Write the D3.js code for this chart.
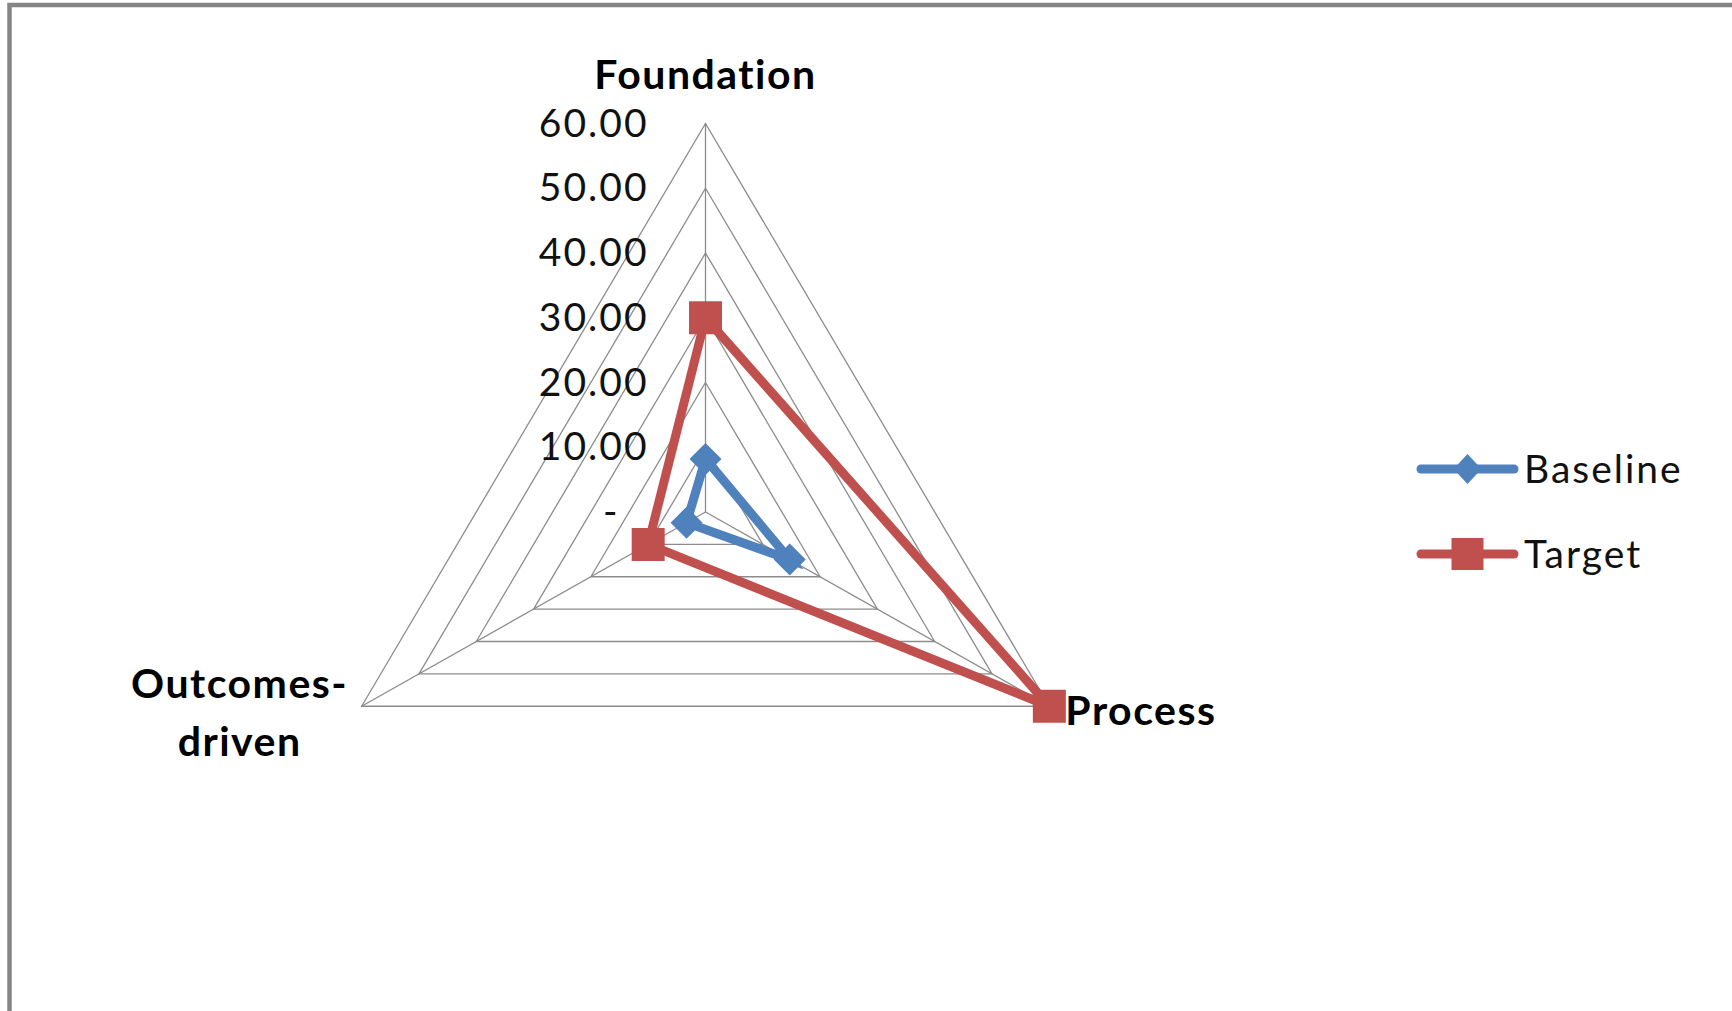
<!DOCTYPE html>
<html>
<head>
<meta charset="utf-8">
<script src="https://cdn.jsdelivr.net/npm/d3@7"></script>
<style>
  html, body { margin: 0; padding: 0; background: #fff; }
  svg { display: block; }
</style>
</head>
<body>
<div id="chart"></div>
<script>
var categories = ["Foundation", "Process", "Outcomes-driven"];
var baseline = [8.2, 14.7, 3.3];
var target = [30, 60, 10];
var tickValues = [0, 10, 20, 30, 40, 50, 60];
var seriesNames = ["Baseline", "Target"];

var width = 1732;
var height = 1011;
var cx = 705.5;
var cy = 512;
var radius = 388.5;
var stretchX = 1.022;
var font = "Lato, 'Open Sans', sans-serif";

var blue = "#4F81BD";
var red = "#C0504D";

var svg = d3.select("#chart").append("svg")
    .attr("width", width)
    .attr("height", height);

svg.append("rect")
    .attr("width", width)
    .attr("height", height)
    .attr("fill", "#fff");

// frame, only top and left edges show in the picture
svg.append("path")
    .attr("d", "M9.5,1011 L9.5,5 L1732,5")
    .attr("fill", "none")
    .attr("stroke", "#858585")
    .attr("stroke-width", 4.5);

var r = d3.scaleLinear().domain([0, 60]).range([0, radius]);

function angle(i) {
    return -Math.PI / 2 + i * 2 * Math.PI / categories.length;
}

function point(v, i) {
    var a = angle(i);
    return [cx + stretchX * r(v) * Math.cos(a), cy + r(v) * Math.sin(a)];
}

var line = d3.line().curve(d3.curveLinearClosed);

// grid triangles
svg.append("g")
    .selectAll("path")
    .data(tickValues.filter(function (t) { return t > 0; }))
    .enter()
    .append("path")
    .attr("d", function (t) {
        return line(categories.map(function (c, i) { return point(t, i); }));
    })
    .attr("fill", "none")
    .attr("stroke", "#8c8c8c")
    .attr("stroke-width", 1.3);

// spokes
svg.append("g")
    .selectAll("line")
    .data(categories)
    .enter()
    .append("line")
    .attr("x1", cx)
    .attr("y1", cy)
    .attr("x2", function (d, i) { return point(60, i)[0]; })
    .attr("y2", function (d, i) { return point(60, i)[1]; })
    .attr("stroke", "#8c8c8c")
    .attr("stroke-width", 1.3);

// tick labels
var fmt = d3.format(".2f");
svg.append("g")
    .selectAll("text")
    .data(tickValues)
    .enter()
    .append("text")
    .attr("x", function (t) { return t === 0 ? cx - 86 : cx - 57; })
    .attr("y", function (t) { return cy - r(t) + 13; })
    .attr("text-anchor", "end")
    .attr("font-family", font)
    .attr("font-size", "39px")
    .attr("letter-spacing", "2px")
    .attr("fill", "#111")
    .text(function (t) { return t === 0 ? "-" : fmt(t); });

// category labels
var catLabels = svg.append("g")
    .attr("font-family", font)
    .attr("font-weight", "bold")
    .attr("font-size", "41px")
    .attr("letter-spacing", "1.5px")
    .attr("fill", "#000");

var topEnd = point(60, 0);
catLabels.append("text")
    .attr("x", topEnd[0])
    .attr("y", topEnd[1] - 35)
    .attr("text-anchor", "middle")
    .text(categories[0]);

var rightEnd = point(60, 1);
catLabels.append("text")
    .attr("x", rightEnd[0] + 16)
    .attr("y", rightEnd[1] + 19)
    .attr("text-anchor", "start")
    .text(categories[1]);

var leftEnd = point(60, 2);
var leftText = catLabels.append("text")
    .attr("text-anchor", "middle");
leftText.append("tspan")
    .attr("x", leftEnd[0] - 122)
    .attr("y", leftEnd[1] - 8)
    .text("Outcomes-");
leftText.append("tspan")
    .attr("x", leftEnd[0] - 122)
    .attr("y", leftEnd[1] + 50)
    .text("driven");

// markers
function squarePath(x, y, s) {
    return "M" + (x - s / 2) + "," + (y - s / 2) + "h" + s + "v" + s + "h" + (-s) + "Z";
}
function diamondPath(x, y, w, h) {
    return "M" + x + "," + (y - h) + "L" + (x + w) + "," + y + "L" + x + "," + (y + h) + "L" + (x - w) + "," + y + "Z";
}

var series = [
    { name: seriesNames[0], values: baseline, color: blue, marker: "diamond" },
    { name: seriesNames[1], values: target, color: red, marker: "square" }
];

series.forEach(function (s) {
    var pts = s.values.map(function (v, i) { return point(v, i); });
    svg.append("path")
        .attr("d", line(pts))
        .attr("fill", "none")
        .attr("stroke", s.color)
        .attr("stroke-width", 9)
        .attr("stroke-linejoin", "miter");
    svg.append("g")
        .selectAll("path")
        .data(pts)
        .enter()
        .append("path")
        .attr("d", function (p) {
            return s.marker === "square" ? squarePath(p[0], p[1], 33) : diamondPath(p[0], p[1], 16, 16);
        })
        .attr("fill", s.color);
});

// legend
var legendY = [469, 554];
var legend = svg.append("g");
series.forEach(function (s, k) {
    var y = legendY[k];
    legend.append("line")
        .attr("x1", 1421)
        .attr("x2", 1514)
        .attr("y1", y)
        .attr("y2", y)
        .attr("stroke", s.color)
        .attr("stroke-width", 9)
        .attr("stroke-linecap", "round");
    legend.append("path")
        .attr("d", s.marker === "square" ? squarePath(1467.5, y, 32) : diamondPath(1467.5, y, 14, 15))
        .attr("fill", s.color);
    legend.append("text")
        .attr("x", 1524)
        .attr("y", y + 14)
        .attr("font-family", font)
        .attr("font-size", "39px")
        .attr("letter-spacing", "2px")
        .attr("fill", "#111")
        .text(s.name);
});
</script>
</body>
</html>
